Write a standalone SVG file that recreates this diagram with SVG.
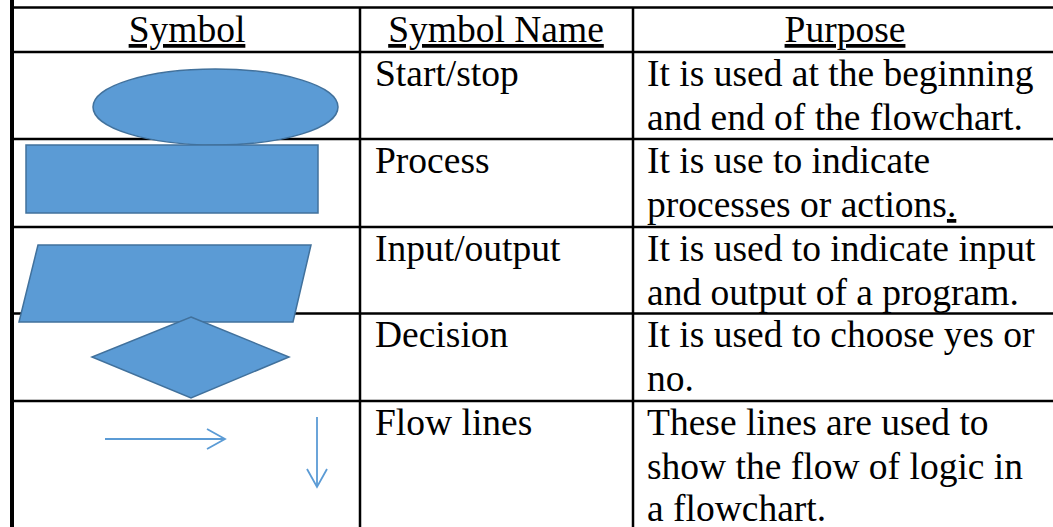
<svg xmlns="http://www.w3.org/2000/svg" width="1053" height="527" viewBox="0 0 1053 527">
  <style>
    .t { font-family: "Liberation Serif", "Times New Roman", serif; font-size: 37.5px; fill: #000; }
    .h { text-anchor: middle; text-decoration: underline; }
    .grid { stroke: #000; stroke-width: 2.5; fill: none; }
    .shape { fill: #5B9BD5; stroke: #41719C; stroke-width: 1.5; }
    .flow { stroke: #5B9BD5; stroke-width: 1.8; fill: none; }
  </style>
  <rect width="1053" height="527" fill="#fff"/>

  <g id="table-grid">
    <line class="grid" x1="14" y1="7.5" x2="1053" y2="7.5" stroke-width="2"/>
    <line class="grid" x1="14" y1="52" x2="1053" y2="52"/>
    <line class="grid" x1="14" y1="139" x2="1053" y2="139"/>
    <line class="grid" x1="14" y1="227" x2="1053" y2="227"/>
    <line class="grid" x1="14" y1="313.5" x2="1053" y2="313.5"/>
    <line class="grid" x1="14" y1="401" x2="1053" y2="401"/>
    <line class="grid" x1="360" y1="7" x2="360" y2="527"/>
    <line class="grid" x1="633" y1="7" x2="633" y2="527"/>
    <line x1="12" y1="0" x2="12" y2="527" stroke="#000" stroke-width="4"/>
  </g>

  <g id="header">
    <text class="t h" x="187" y="42">Symbol</text>
    <text class="t h" x="496" y="42">Symbol Name</text>
    <text class="t h" x="845" y="42">Purpose</text>
  </g>

  <g id="row-start-stop">
    <ellipse class="shape" cx="215.5" cy="107" rx="122.5" ry="38"/>
    <text class="t" x="375" y="86">Start/stop</text>
    <text class="t" x="647" y="86">It is used at the beginning</text>
    <text class="t" x="647" y="130">and end of the flowchart.</text>
  </g>

  <g id="row-process">
    <rect class="shape" x="26" y="145" width="292" height="68"/>
    <text class="t" x="375" y="173">Process</text>
    <text class="t" x="647" y="173">It is use to indicate</text>
    <text class="t" x="647" y="217">processes or actions<tspan text-decoration="underline">.</tspan></text>
  </g>

  <g id="row-input-output">
    <polygon class="shape" points="38,245 311,245 293,322 19,322"/>
    <text class="t" x="375" y="261">Input/output</text>
    <text class="t" x="647" y="261">It is used to indicate input</text>
    <text class="t" x="647" y="305">and output of a program.</text>
  </g>

  <g id="row-decision">
    <polygon class="shape" points="191,317 289,357 191,398 92,357"/>
    <text class="t" x="375" y="347">Decision</text>
    <text class="t" x="647" y="347">It is used to choose yes or</text>
    <text class="t" x="647" y="391">no.</text>
  </g>

  <g id="row-flow-lines">
    <g id="flow-symbols">
      <line class="flow" x1="105" y1="439" x2="225" y2="439"/>
      <polyline class="flow" points="207,429 225,439 207,449"/>
      <line class="flow" x1="317" y1="417" x2="317" y2="487"/>
      <polyline class="flow" points="307,469 317,487 327,469"/>
    </g>
    <text class="t" x="375" y="435">Flow lines</text>
    <text class="t" x="647" y="435">These lines are used to</text>
    <text class="t" x="647" y="479">show the flow of logic in</text>
    <text class="t" x="647" y="521">a flowchart.</text>
  </g>
</svg>
